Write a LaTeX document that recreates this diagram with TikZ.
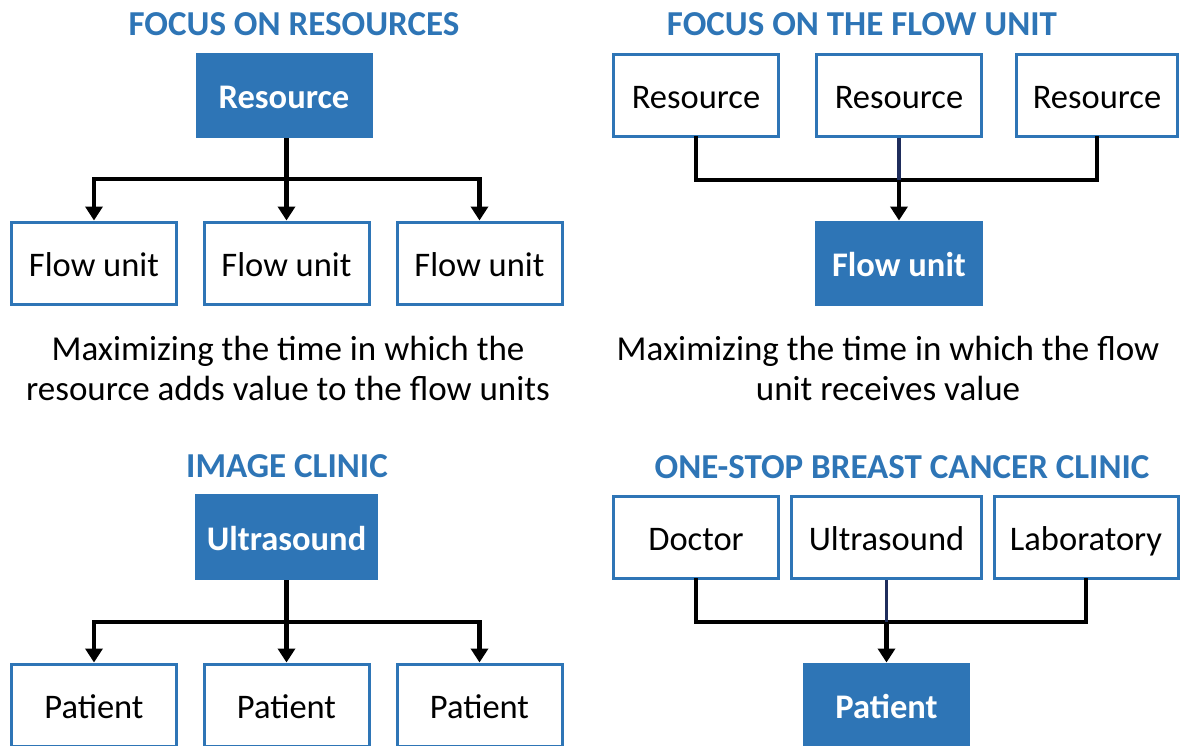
\documentclass[tikz,border=0pt]{standalone}
\usepackage{fontspec}
\setmainfont{Carlito}
\usetikzlibrary{arrows.meta}
\definecolor{accent}{HTML}{2E75B6}
\definecolor{navy}{HTML}{1F2D5C}

\begin{document}
\begin{tikzpicture}[x=1pt,y=-1pt,
  outlinebox/.style={draw=accent, line width=3pt, fill=white, text=black,
    font=\fontsize{34.5}{38}\selectfont, inner sep=0pt, text height=30pt, text depth=4pt},
  filledbox/.style={draw=accent, line width=3pt, fill=accent, text=white,
    font=\bfseries\fontsize{34.5}{38}\selectfont, inner sep=0pt, text height=30pt, text depth=4pt},
  heading/.style={text=accent, font=\bfseries\fontsize{35}{38}\selectfont, inner sep=0pt},
  caption/.style={text=black, font=\fontsize{35}{40}\selectfont, align=center, inner sep=0pt},
  conn/.style={draw=black, line width=4.5pt},
  midstem/.style={draw=navy, line width=3.5pt},
  tip/.style={-{Triangle[length=14pt,width=17pt]}}
]
\useasboundingbox (0,0) rectangle (1180,745);

% ---------------- Focus on resources ----------------
\node[heading] (t1) at (294,24) {FOCUS ON RESOURCES};
\node[filledbox, minimum width=174pt, minimum height=82pt] (res) at (284,95.5) {Resource};
\node[outlinebox, minimum width=165pt, minimum height=82pt] (fu1) at (94,263) {Flow unit};
\node[outlinebox, minimum width=165pt, minimum height=82pt] (fu2) at (286.5,263) {Flow unit};
\node[outlinebox, minimum width=165pt, minimum height=82pt] (fu3) at (479.5,263) {Flow unit};
\coordinate (bus1) at (0,179);
\draw[conn] (res.south -| fu2.north) -- (fu2.north |- bus1);
\draw[conn, line cap=rect] (fu1.north |- bus1) -- (fu3.north |- bus1);
\draw[conn, tip] (fu1.north |- bus1) -- (fu1.north);
\draw[conn, tip] (fu2.north |- bus1) -- (fu2.north);
\draw[conn, tip] (fu3.north |- bus1) -- (fu3.north);
\node[caption] (c1) at (288,368) {Maximizing the time in which the\\resource adds value to the flow units};

% ---------------- Focus on the flow unit ----------------
\node[heading] (t2) at (862,24) {FOCUS ON THE FLOW UNIT};
\node[outlinebox, minimum width=165pt, minimum height=82pt] (r1) at (696,95.5) {Resource};
\node[outlinebox, minimum width=165pt, minimum height=82pt] (r2) at (899,95.5) {Resource};
\node[outlinebox, minimum width=161pt, minimum height=82pt] (r3) at (1097,95.5) {Resource};
\node[filledbox, minimum width=165pt, minimum height=82pt] (fu) at (899,263) {Flow unit};
\coordinate (bus2) at (0,180);
\draw[conn, line cap=rect] (r1.south) -- (r1.south |- bus2) -- (r3.south |- bus2) -- (r3.south);
\draw[midstem] (r2.south) -- (r2.south |- bus2);
\draw[conn, tip] (fu.north |- bus2) -- (fu.north);
\node[caption] (c2) at (888,368) {Maximizing the time in which the flow\\unit receives value};

% ---------------- Image clinic ----------------
\node[heading] (t3) at (287,466) {IMAGE CLINIC};
\node[filledbox, minimum width=180pt, minimum height=83pt] (us) at (286.5,537) {Ultrasound};
\node[outlinebox, minimum width=165pt, minimum height=82pt] (p1) at (94,705) {Patient};
\node[outlinebox, minimum width=165pt, minimum height=82pt] (p2) at (286.5,705) {Patient};
\node[outlinebox, minimum width=165pt, minimum height=82pt] (p3) at (479.5,705) {Patient};
\coordinate (bus3) at (0,622);
\draw[conn] (us.south -| p2.north) -- (p2.north |- bus3);
\draw[conn, line cap=rect] (p1.north |- bus3) -- (p3.north |- bus3);
\draw[conn, tip] (p1.north |- bus3) -- (p1.north);
\draw[conn, tip] (p2.north |- bus3) -- (p2.north);
\draw[conn, tip] (p3.north |- bus3) -- (p3.north);

% ---------------- One-stop breast cancer clinic ----------------
\node[heading] (t4) at (902,467) {ONE-STOP BREAST CANCER CLINIC};
\node[outlinebox, minimum width=165pt, minimum height=82pt] (doc) at (696,537.5) {Doctor};
\node[outlinebox, minimum width=190pt, minimum height=82pt] (ult) at (886.5,537.5) {Ultrasound};
\node[outlinebox, minimum width=184pt, minimum height=82pt] (lab) at (1086,537.5) {Laboratory};
\node[filledbox, minimum width=164pt, minimum height=82pt] (pt) at (886.5,705) {Patient};
\coordinate (bus4) at (0,622);
\draw[conn, line cap=rect] (doc.south) -- (doc.south |- bus4) -- (lab.south |- bus4) -- (lab.south);
\draw[midstem] (ult.south) -- (ult.south |- bus4);
\draw[conn, tip] (pt.north |- bus4) -- (pt.north);
\end{tikzpicture}
\end{document}
